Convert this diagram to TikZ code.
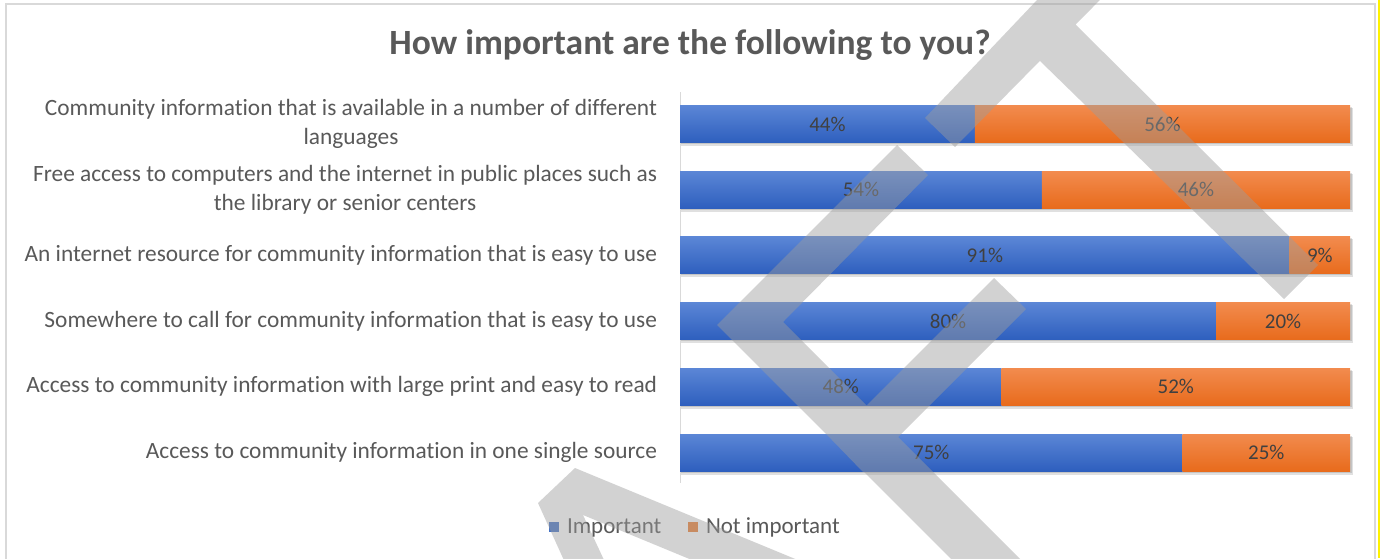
\documentclass[tikz,border=0pt]{standalone}
\usepackage{fontspec}
\setmainfont{Carlito}[Ligatures=NoCommon]
\definecolor{bluetop}{HTML}{5B86D6}
\definecolor{bluebot}{HTML}{2E5FBE}
\definecolor{orgtop}{HTML}{F28B4E}
\definecolor{orgbot}{HTML}{E86B1C}
\definecolor{impblue}{HTML}{4472C4}
\definecolor{notorange}{HTML}{ED7D31}
\definecolor{txtgray}{HTML}{595959}
\definecolor{pctgray}{HTML}{404040}
\definecolor{linegray}{HTML}{D9D9D9}
\definecolor{markgray}{HTML}{9D9D9D}

\begin{document}
\begin{tikzpicture}
[x=1pt,y=-1pt,every node/.style={inner sep=0pt,outer sep=0pt},
impbar/.style={anchor=west,minimum height=37pt,top color=bluetop,bottom color=bluebot},
notbar/.style={anchor=west,minimum height=37pt,top color=orgtop,bottom color=orgbot},
pct/.style={text=pctgray,font=\fontsize{21}{22}\selectfont},
cat/.style={anchor=east,align=center,text=txtgray,font=\fontsize{23.35}{29}\selectfont},
key/.style={minimum size=10pt},
keytext/.style={anchor=base west,text=txtgray,font=\fontsize{23}{28}\selectfont}]
\useasboundingbox (0,0) rectangle (1380,558);
\fill[white] (0,0) rectangle (1380,558);
\draw[linegray,line width=1.2pt] (6,560) -- (6,4) -- (1375,4) -- (1375,560);
\fill[yellow] (1377.5,0) rectangle (1380,558);
\node[anchor=base,text=txtgray,font=\bfseries\fontsize{35.5}{40}\selectfont] (title) at (690,54) {How important are the following to you?};
\draw[linegray] (680,92) -- (680,483);
\foreach \p/\lab [count=\i] in {44/{Community information that is available in a number of different\\languages},
54/{Free access to computers and the internet in public places such as\\the library or senior centers},
91/{An internet resource for community information that is easy to use},
80/{Somewhere to call for community information that is easy to use},
48/{Access to community information with large print and easy to read},
75/{Access to community information in one single source}}{
\pgfmathsetmacro{\yc}{124+65.7*(\i-1)}
\pgfmathsetmacro{\wa}{6.7*\p}
\pgfmathsetmacro{\wb}{6.7*(100-\p)}
\pgfmathtruncatemacro{\q}{100-\p}
\fill[black,opacity=0.12] (681,\yc-16) rectangle (1353,\yc+22);
\fill[black,opacity=0.12] (681,\yc-17) rectangle (1351.5,\yc+20);
\node[impbar,minimum width=\wa pt] (imp\i) at (680,\yc) {};
\node[notbar,minimum width=\wb pt] (not\i) at (imp\i.east) {};
\node[pct] (pi\i) at (imp\i.center) {\p\%};
\node[pct] (pn\i) at (not\i.center) {\q\%};
\node[cat] (cat\i) at (657,\yc) {\lab};
}
\node[key,fill=impblue] (kimp) at (554,526.5) {};
\node[keytext] (limp) at (567,533) {Important};
\node[key,fill=notorange] (knot) at (693,526.5) {};
\node[keytext] (lnot) at (706,533) {Not important};
\begin{scope}
\clip (0,0) rectangle (1380,558);
\fill[markgray,opacity=0.45]
(1094,-60) -- (1159,-60) -- (955,147) -- (925,118) -- cycle
(1074,23) -- (1318,265) -- (1284,299) -- (1039,60) -- cycle
(897,145) -- (928,175) -- (783,322) -- (1081,620) -- (1012,620) -- (717,325) -- cycle
(994,278) -- (1026,309) -- (863,472) -- (832,440) -- cycle
(575,468) -- (943,620) -- (837,620) -- (583,515) -- (632,620) -- (591,620) -- (538,503) -- cycle;
\end{scope}
\end{tikzpicture}
\end{document}
